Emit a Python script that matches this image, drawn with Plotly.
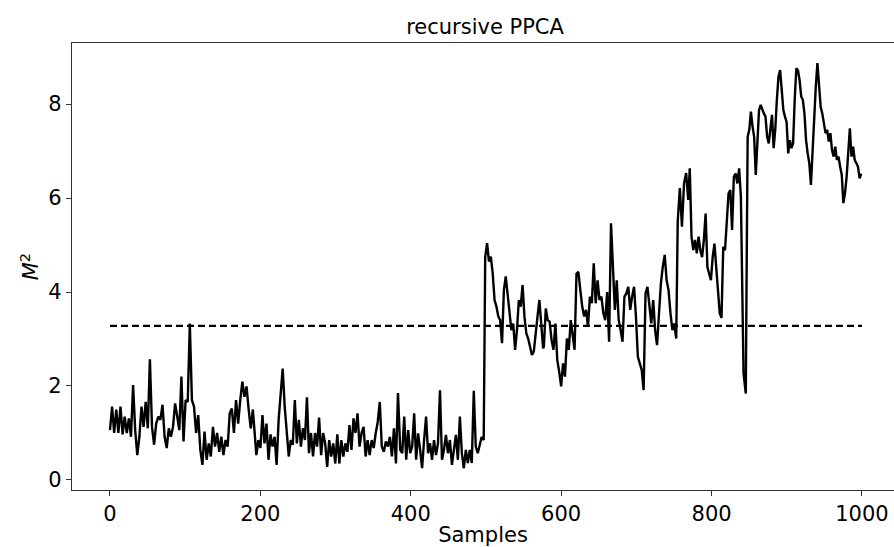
import numpy as np
import plotly.graph_objects as go

# M^2 statistic, in consecutive segments of samples
seg_start = [0, 192, 386, 499, 577, 755, 771, 841, 848]
seg_end = [190, 383, 497, 576, 753, 769, 839, 847, 999]

seg1 = [1.06, 1.56, 1.0, 1.5, 1.0, 1.56, 0.97, 1.35, 1.0, 1.31, 0.92, 2.02, 1.06, 0.53, 0.92,
        1.56, 1.13, 1.66, 1.1, 2.57, 1.13, 0.75, 1.2, 1.35, 1.28, 1.6, 0.92, 0.68, 1.1, 0.92,
        1.13, 1.63, 1.35, 1.06, 2.2, 0.82, 1.7, 1.66, 3.33, 1.7, 1.56, 1.0, 1.38, 0.64, 0.32,
        1.03, 0.43, 0.78, 0.5, 1.13, 0.71, 1.0, 0.6, 0.92, 0.53, 0.85, 0.71, 1.42, 1.52, 1.0,
        1.7, 1.2, 1.7, 2.09, 1.77, 1.99, 1.5, 1.1, 1.5]
seg2 = [1.0, 0.53, 0.85, 0.68, 1.38, 0.78, 1.2, 0.43, 0.97, 0.71, 0.92, 0.32, 1.28, 1.77, 2.37,
        1.56, 1.06, 0.5, 0.85, 0.75, 1.7, 0.78, 1.28, 0.71, 1.1, 0.85, 1.76, 0.57, 1.0, 0.5,
        1.0, 0.71, 1.33, 0.53, 1.0, 0.78, 0.28, 0.85, 0.5, 0.78, 0.35, 0.97, 0.35, 0.85, 0.5,
        0.78, 0.6, 1.17, 0.64, 1.31, 1.0, 1.42, 0.71, 1.0, 1.13, 0.5, 0.85, 0.53, 0.85, 0.68,
        1.0, 1.24, 1.66, 0.71, 0.6, 0.82, 0.71, 0.92, 0.5, 1.1, 0.35, 1.85]
seg3 = [0.64, 0.57, 1.35, 0.43, 1.06, 0.57, 0.71, 1.42, 0.43, 0.99, 0.64, 0.25, 0.85, 1.35,
        0.57, 0.78, 0.43, 0.85, 0.53, 0.78, 1.91, 0.43, 0.64, 0.96, 0.57, 0.85, 0.32, 0.71,
        0.96, 0.43, 1.35, 0.57, 0.25, 0.64, 0.36, 0.64, 0.36, 1.9, 0.71, 0.57, 0.78, 0.92, 0.85]
seg4 = [4.75, 5.04, 4.65, 4.75, 4.4, 3.83, 3.69, 3.48, 3.4, 2.91, 4.04, 4.33, 3.97, 3.48, 3.19,
        3.33, 2.77, 3.19, 3.83, 3.69, 4.15, 3.48, 3.12, 3.01, 2.84, 2.66, 2.73, 3.19, 3.48,
        3.83, 3.4, 2.8]
seg5 = [2.84, 3.65, 3.4, 3.37, 2.98, 2.77, 3.33, 2.55, 2.30, 1.99, 2.48, 2.2, 3.01, 2.77, 3.4,
        3.12, 2.77, 4.39, 4.43, 4.04, 3.69, 3.48, 3.62, 3.26, 3.9, 3.76, 4.61, 3.76, 4.25, 3.83,
        3.9, 3.55, 3.4, 4.0, 2.94, 5.46, 4.68, 3.62, 4.25, 3.4, 3.19, 2.94, 3.9, 3.97, 4.11,
        3.62, 3.9, 4.11, 3.48, 2.62, 2.48, 2.34, 1.91, 3.97, 4.11, 3.76, 3.33, 3.83, 3.19, 2.87,
        3.62, 4.18, 4.54, 4.79, 4.25, 4.04, 3.55, 3.19, 3.33, 3.01]
seg6 = [5.5, 6.21, 5.39, 6.31, 6.53, 5.96]
seg7 = [6.63, 5.18, 4.89, 5.11, 4.82, 5.18, 4.89, 4.74, 5.11, 5.67, 4.53, 4.39, 4.25, 4.74,
        5.03, 4.53, 4.04, 3.55, 3.45, 4.96, 4.89, 5.46, 6.1, 6.17, 5.32, 6.45, 6.52, 6.31,
        6.63, 6.03]
seg8 = [4.18, 2.28, 2.06, 1.84, 5.25]
seg9 = [7.3, 7.45, 7.84, 7.52, 7.3, 6.49, 7.09, 7.87, 7.98, 7.87, 7.8, 7.73, 7.3, 7.16, 7.45,
        7.77, 7.06, 7.45, 8.09, 8.58, 8.72, 8.3, 7.87, 7.73, 7.62, 6.95, 7.23, 7.06, 7.16, 8.09,
        8.76, 8.72, 8.51, 8.16, 8.09, 7.8, 7.23, 6.95, 6.74, 6.28, 7.02, 7.73, 8.37, 8.87, 8.44,
        7.94, 7.8, 7.59, 7.38, 7.45, 7.2, 7.38, 7.02, 6.88, 7.09, 6.81, 6.88, 6.67, 6.49, 5.89,
        6.1, 6.45, 6.95, 7.48, 6.88, 7.09, 6.81, 6.74, 6.67, 6.42, 6.52]
segments = [seg1, seg2, seg3, seg4, seg5, seg6, seg7, seg8, seg9]

threshold = 3.28
threshold_span = [0, 1000]
x_ticks = [0, 200, 400, 600, 800, 1000]
y_ticks = [0, 2, 4, 6, 8]

xs, ys = [], []
for s, e, vals in zip(seg_start, seg_end, segments):
    xs.extend(np.linspace(s, e, len(vals)).tolist())
    ys.extend(vals)

font = dict(family="DejaVu Sans", size=21, color="black")

fig = go.Figure()
fig.add_trace(go.Scatter(x=xs, y=ys, mode="lines",
                         line=dict(color="black", width=2.4), showlegend=False))
fig.add_trace(go.Scatter(x=threshold_span, y=[threshold, threshold], mode="lines",
                         line=dict(color="black", width=2.2, dash="7px,4px"), showlegend=False))

fig.update_layout(
    width=894, height=547,
    margin=dict(l=72, r=0, t=43, b=57),
    paper_bgcolor="white", plot_bgcolor="white",
    font=font,
    title=dict(text="recursive PPCA", x=485 / 894, xref="container", xanchor="center",
               y=1 - 27 / 547, yref="container", yanchor="middle",
               font=dict(family="DejaVu Sans", size=21, color="black")),
)
fig.update_xaxes(range=[-50.5, 1042.6], tickvals=x_ticks, ticks="outside", ticklen=5,
                 tickwidth=1.3, tickcolor="#333", showline=True, linecolor="#333", linewidth=1.3,
                 mirror=True, showgrid=False, zeroline=False, tickfont=font,
                 title=dict(text="Samples", font=font, standoff=4))
fig.update_yaxes(range=[-0.213, 9.298], tickvals=y_ticks, ticks="outside", ticklen=5,
                 tickwidth=1.3, tickcolor="#333", showline=True, linecolor="#333", linewidth=1.3,
                 mirror=False, showgrid=False, zeroline=False, tickfont=font,
                 title=dict(text="<i>M</i><sup>2</sup>", font=font, standoff=3))

fig.write_html("out.html")
